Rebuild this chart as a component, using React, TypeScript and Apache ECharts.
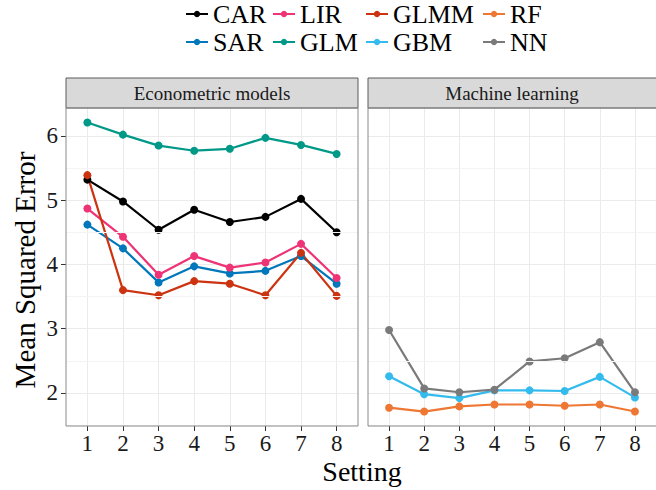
import React, { useEffect, useRef } from "react";
import * as echarts from "echarts";

const settings = [1, 2, 3, 4, 5, 6, 7, 8];
const yTicks = [2, 3, 4, 5, 6];
const yMinor = [1.5, 2.5, 3.5, 4.5, 5.5];

const CAR = [5.32, 4.98, 4.54, 4.85, 4.66, 4.74, 5.02, 4.5];
const SAR = [4.62, 4.25, 3.72, 3.97, 3.86, 3.9, 4.13, 3.7];
const LIR = [4.87, 4.43, 3.84, 4.13, 3.95, 4.03, 4.32, 3.79];
const GLM = [6.21, 6.02, 5.85, 5.77, 5.8, 5.97, 5.86, 5.72];
const GLMM = [5.39, 3.6, 3.52, 3.74, 3.7, 3.52, 4.18, 3.51];
const GBM = [2.26, 1.98, 1.92, 2.04, 2.04, 2.03, 2.25, 1.93];
const RF = [1.77, 1.71, 1.79, 1.82, 1.82, 1.8, 1.82, 1.71];
const NN = [2.98, 2.07, 2.01, 2.05, 2.49, 2.54, 2.79, 2.01];

const panels = ["Econometric models", "Machine learning"];

const seriesDefs = [
  { name: "CAR", data: CAR, color: "#000000", panel: 0 },
  { name: "SAR", data: SAR, color: "#0077BB", panel: 0 },
  { name: "LIR", data: LIR, color: "#EE3377", panel: 0 },
  { name: "GLM", data: GLM, color: "#009988", panel: 0 },
  { name: "GLMM", data: GLMM, color: "#CC3311", panel: 0 },
  { name: "GBM", data: GBM, color: "#33BBEE", panel: 1 },
  { name: "RF", data: RF, color: "#EE7733", panel: 1 },
  { name: "NN", data: NN, color: "#7A7A7A", panel: 1 },
];

const legendCols = [
  ["CAR", "SAR"],
  ["LIR", "GLM"],
  ["GLMM", "GBM"],
  ["RF", "NN"],
];

const FONT = "Liberation Serif";

export default function App() {
  const ref = useRef<HTMLDivElement>(null);
  useEffect(() => {
    if (!ref.current) return;
    const chart = echarts.init(ref.current, null, { renderer: "svg" });
    const gridTop = 108;
    const gridH = 318;
    const grids = [
      { left: 66, top: gridTop, width: 292, height: gridH },
      { left: 368, top: gridTop, width: 293, height: gridH },
    ];
    const legendLefts = [185, 272, 365, 482];

    const xAxes = grids.map((_, i) => ({
      type: "value",
      gridIndex: i,
      min: 0.4,
      max: 8.6,
      axisLine: { show: false },
      axisTick: {
        show: true,
        customValues: settings,
        length: 5,
        lineStyle: { color: "#333", width: 1 },
      },
      axisLabel: {
        customValues: settings,
        fontFamily: FONT,
        fontSize: 23,
        color: "#1a1a1a",
        margin: 6,
      },
      splitLine: { show: true, lineStyle: { color: "#EBEBEB", width: 1 } },
    }));
    const yAxes = grids.map((_, i) => ({
      type: "value",
      gridIndex: i,
      min: 1.485,
      max: 6.435,
      axisLine: { show: false },
      axisTick: {
        show: i === 0,
        customValues: yTicks,
        length: 5,
        lineStyle: { color: "#333", width: 1 },
      },
      axisLabel: {
        show: i === 0,
        customValues: yTicks,
        fontFamily: FONT,
        fontSize: 23,
        color: "#1a1a1a",
        margin: 8,
      },
      splitLine: { show: true, lineStyle: { color: "#EBEBEB", width: 1 } },
    }));

    const minorSeries = grids.map((_, i) => ({
      type: "line",
      xAxisIndex: i,
      yAxisIndex: i,
      data: [],
      silent: true,
      z: 0,
      markLine: {
        silent: true,
        symbol: "none",
        label: { show: false },
        lineStyle: { color: "#F4F4F4", width: 1, type: "solid" },
        data: yMinor.map((v) => ({ yAxis: v })),
      },
    }));

    const series = seriesDefs.map((s) => ({
      name: s.name,
      type: "line",
      xAxisIndex: s.panel,
      yAxisIndex: s.panel,
      data: s.data.map((v, j) => [settings[j], v]),
      symbol: "circle",
      symbolSize: 8,
      lineStyle: { color: s.color, width: 2.2 },
      itemStyle: { color: s.color },
      z: 3,
    }));

    const graphic: any[] = [];
    grids.forEach((g, i) => {
      graphic.push({
        type: "rect",
        shape: { x: g.left, y: 78, width: g.width, height: 30 },
        style: { fill: "#D9D9D9", stroke: "#5A5A5A", lineWidth: 1 },
        z: 10,
      });
      graphic.push({
        type: "rect",
        shape: { x: g.left, y: g.top, width: g.width, height: g.height },
        style: { fill: "none", stroke: "#8A8A8A", lineWidth: 1 },
        z: 10,
        silent: true,
      });
      graphic.push({
        type: "text",
        x: g.left + g.width / 2 - (i === 1 ? 2.5 : 0),
        y: 93,
        style: {
          text: panels[i],
          fontFamily: FONT,
          fontSize: 19,
          fill: "#1a1a1a",
          textAlign: "center",
          textVerticalAlign: "middle",
        },
        z: 11,
      });
    });
    graphic.push({
      type: "text",
      x: 362,
      y: 471,
      style: {
        text: "Setting",
        fontFamily: FONT,
        fontSize: 28,
        fill: "#000",
        textAlign: "center",
        textVerticalAlign: "middle",
      },
    });
    graphic.push({
      type: "text",
      x: 25,
      y: 270,
      rotation: Math.PI / 2,
      style: {
        text: "Mean Squared Error",
        fontFamily: FONT,
        fontSize: 29,
        fill: "#000",
        textAlign: "center",
        textVerticalAlign: "middle",
      },
    });

    const legends = legendCols.map((col, i) => ({
      orient: "vertical",
      left: legendLefts[i],
      top: 1,
      padding: 0,
      itemGap: 2,
      itemWidth: 22,
      itemHeight: 8,
      selectedMode: false,
      data: col,
      textStyle: {
        fontFamily: FONT,
        fontSize: 26,
        lineHeight: 24,
        color: "#000",
      },
    }));

    chart.setOption({
      animation: false,
      backgroundColor: "#fff",
      textStyle: { fontFamily: FONT },
      legend: legends,
      grid: grids.map((g) => ({ ...g, containLabel: false })),
      xAxis: xAxes,
      yAxis: yAxes,
      series: [...minorSeries, ...series],
      graphic,
    } as any);
    return () => chart.dispose();
  }, []);
  return (
    <div
      ref={ref}
      style={{ position: "fixed", left: 0, top: 0, width: 656, height: 490 }}
    />
  );
}
